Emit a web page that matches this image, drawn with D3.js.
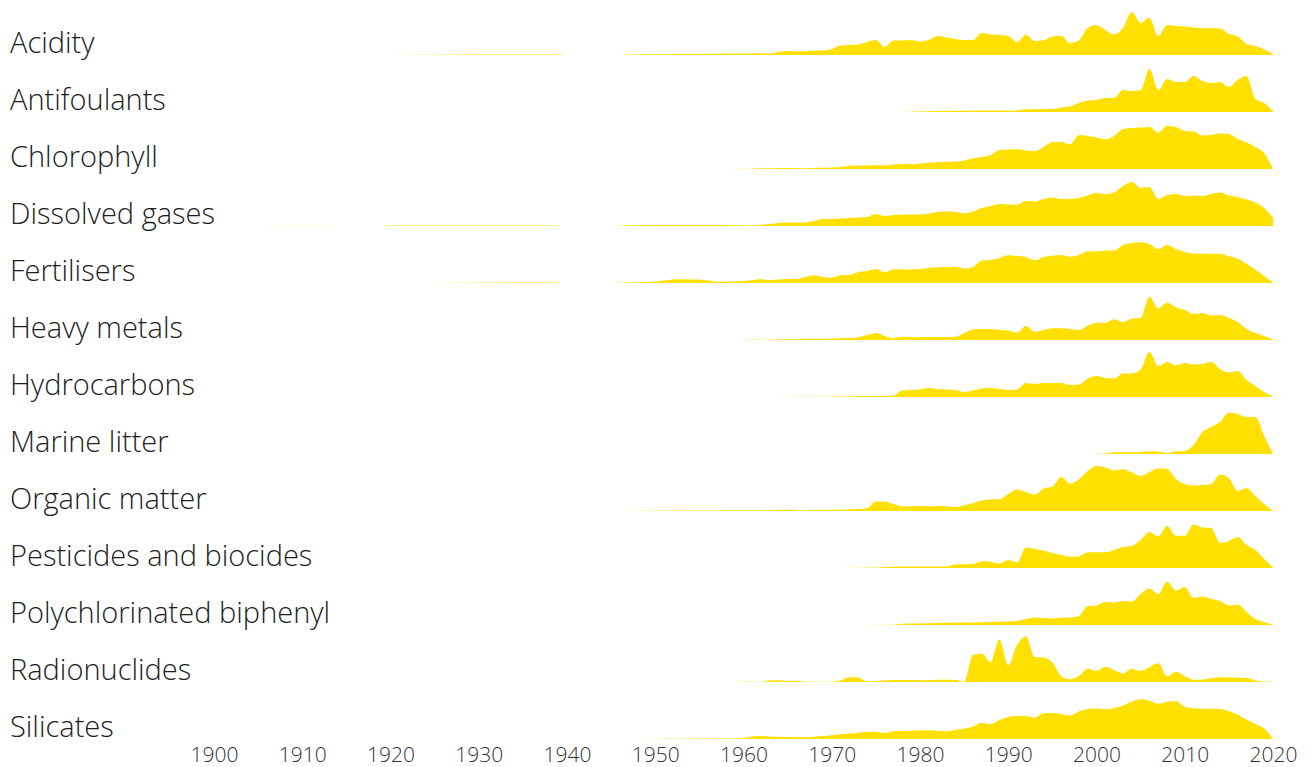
<!DOCTYPE html>
<html><head><meta charset="utf-8">
<script src="https://cdn.jsdelivr.net/npm/d3@7"></script>
<style>body{margin:0;background:#fff;}svg{display:block;}</style>
</head><body>
<svg id="chart" width="1314" height="767"></svg>
<script>
const categories = ["Acidity","Antifoulants","Chlorophyll","Dissolved gases","Fertilisers","Heavy metals","Hydrocarbons","Marine litter","Organic matter","Pesticides and biocides","Polychlorinated biphenyl","Radionuclides","Silicates"];
const tickYears = [1900,1910,1920,1930,1940,1950,1960,1970,1980,1990,2000,2010,2020];

const acidityStart = 1920;
const acidity = [0.4,0.5,0.5,0.5,0.5,0.5,0.5,0.6,0.5,0.5,
 0.6,0.5,0.5,0.5,0.5,0.6,0.5,0.5,0.5,0.4,
 0,0,0,0,0,0,0,0.5,0.6,0.7,
 0.8,0.8,0.9,1,1,1,1.2,1.3,1.4,1.5,
 1.5,1.6,1.8,1.5,3,4,3.5,3.8,4.5,4.5,
 6,9.5,10,10.5,13,15,8,14.5,14.5,15,
 13.5,15,19,17.5,16,15,15,22,20.5,20,
 19,13,20,14,14.5,18.5,19,12,14.5,27,
 30,25,20.5,27,43,32,37,19,30,29,
 28.5,27.5,26.7,26.7,26.5,21,18.5,11,9,5.5,
 1];

const antifoulantsStart = 1978;
const antifoulants = [0.5,0.8,
 1,1,1,1.1,1.2,1.2,1.3,1.4,1.5,1.5,
 1.3,1.5,2.7,2.8,3,3,4.5,5.5,9,11.5,
 12,14,14,22,21,22,43,22,33,30,
 30,36,31,29,30,25,32,36,13,9,
 0.5];

const chlorophyllStart = 1958;
const chlorophyll = [0.2,0.3,
 0.4,0.5,1.2,0.8,0.9,1,0.8,0.8,1,1.2,
 1.5,2,3.3,3.4,3.5,3.7,3.5,4.5,5,4.8,
 5.5,6.3,6.8,7.3,7.3,8.5,10.7,12,14,19,
 19.5,19.7,18.5,17.7,22,27,27,24.7,34,33,
 31.5,29.7,33,40,41,41.5,42,36.3,43.3,42,
 38,37.5,33.5,34,35.5,35,30,26.5,22,16,
 0];

const dissolvedGasesStart = 1905;
const dissolvedGases = [0.3,0.3,0.3,0.3,0.3,
 0.3,0.3,0.3,0.3,0,0,0,0,0,0,
 0.4,0.4,0.4,0.4,0.4,0.5,0.4,0.4,0.4,0.4,
 0.4,0.5,0.4,0.4,0.4,0.4,0.5,0.4,0.4,0.3,
 0,0,0,0,0,0,0.3,0.7,0.8,0.9,
 1,1,1,1,1.1,1,1,1,1,0.8,
 0.8,0.4,1.2,2,3,3.5,3.5,3.5,5,7,
 7,7.5,8,8.5,9,12,10,11,11.5,11.5,
 11.5,12.5,14,14.5,14,12.5,14.5,18,20,22,
 21.5,21.5,25,24.5,27,28.5,27,27,28,30.5,
 33,32,33.5,40,44,38,39,27,31,32,
 30,30.5,30,32,33.5,30.5,29,26.5,23.5,18,
 8];

const fertilisersStart = 1925;
const fertilisers = [0.4,0.4,0.4,0.4,0.4,
 0.4,0.4,0.5,0.4,0.4,0.4,0.4,0.5,0.4,0.3,
 0,0,0,0,0,0,0.3,0.5,0.7,1,
 1.5,2.5,3.5,3.7,3.6,3.5,2.5,1.3,1.4,1.7,
 2,3,3.7,3,3.5,4,4,6,7.7,6,
 5.3,7.7,8,11,12,14,10.7,13.7,13.5,13.5,
 14,15,15.7,16,16,14.5,16,22.5,23,25,
 27.7,27,26,22.7,26,27.3,28,26.3,28,31.7,
 31.5,32.5,32.5,38,40,40.7,39,34,38,34,
 31,29.5,29.3,29.3,29.3,26.7,24.5,19,13.5,7,
 0.5];

const heavyMetalsStart = 1960;
const heavyMetals = [0.5,1.2,0.5,0.5,0.8,1,0.8,1.2,1.3,1.3,
 1.5,1.8,2,2.7,5,7,4,1.7,3.3,3,
 2.8,3,3,3.1,3.3,7,10.5,11,11,10,
 9.5,7.3,14,8.3,10,11.7,11.7,11,10,14.3,
 17.3,17.3,20.7,17.7,21.5,22,43.3,31.7,37.3,32.7,
 30,26,27,24.5,25,22,18,11,7,4,
 0.5];

const hydrocarbonsStart = 1963;
const hydrocarbons = [0.1,0.2,0.3,0.3,0.3,0.3,0.3,
 0.3,0.4,0.5,1,1,1,1,1.5,6.5,7,
 7.5,9,8,7.5,7,5,6.5,8.5,9,8,
 7,7.5,14,13,14,14,14,12,12.5,18.5,
 21,19,18.5,23.5,23.5,27.5,45,31,35,31.5,
 34,32.5,33,35,28,24.5,26,17,11,5,
 0.5];

const marineLitterStart = 2000;
const marineLitter = [0.5,1,1.7,1.7,1.7,2,2.7,2.5,1,2.7,
 3,9,22,27,32,41.5,40,37,37,18,
 0.5];

const organicMatterStart = 1946;
const organicMatter = [0.3,0.5,0.5,0.5,
 0.5,0.5,0.6,0.6,0.6,0.6,0.6,0.6,0.7,0.7,
 0.7,0.7,0.7,0.8,1,1.5,0.8,0.8,1,1,
 1.2,1.3,1.5,2,2.7,9.5,9.3,7,4.5,4.8,
 5,4.5,5.3,4.8,4,5.5,8,10.5,11.5,11.7,
 17,21.5,19,16.5,22.5,24.5,34,27.5,31.7,40,
 45,43.5,40.5,41.7,38.5,35,39,42.5,42,32,
 27,25.5,26,27,36.5,33,20,23,15,7,
 0.5];

const pesticidesStart = 1971;
const pesticides = [0.2,0.3,0.4,0.5,0.5,1,1.3,1.5,1.6,
 1.6,1.6,1.6,1.5,3.5,3.7,4,6.8,6.3,4.5,
 8,5.5,20.5,19,17.5,15,13,11.3,11.7,15.5,
 15.7,15.7,18,21,22,28,36,31.5,42,32.3,
 32.3,43.5,40.5,40,25,27,31,23,18,9,
 0.5];

const pcbStart = 1974;
const pcb = [0.3,0.4,0.2,0.5,1.2,1.4,
 1.6,1.8,2,2.3,2.3,2.4,2.5,2.7,3,3.2,
 3.5,4,6,7.5,7,6.5,7.3,7.5,9,19,
 19.5,23,22.5,24,23.5,31,36.5,31,43.5,34.5,
 38,27,28.5,26,24,19.5,20.5,13,6,3,
 0.5];

const radionuclidesStart = 1959;
const radionuclides = [0.5,
 1,0.8,0.3,2,2,1,1.2,0.3,0.3,0.3,
 0.3,1.5,4.7,4.5,0.8,1,1.5,2,2,2,
 1.8,1.7,2.3,2.3,2,0.3,27,28.5,20,42.5,
 16.5,37,45.5,25,24.5,19.5,6,2.7,6,13.3,
 11,15.3,12,8.5,13.3,11,15,18.7,5.7,10.3,
 6,2.3,2.5,3.8,4.7,4.5,4.3,4,1.5,0.4,
 0.3];

const silicatesStart = 1949;
const silicates = [0.3,
 0.5,0.5,0.5,0.5,0.5,0.5,0.5,0.5,0.5,0.5,
 1,2.5,3,2.6,2.3,2,1.8,1.7,2.3,3,
 3.8,4.7,5.5,6.3,7,7.3,6,7.7,8,8.3,
 8.5,8.7,8.2,7.7,9,10.5,12.5,16.3,14.7,19,
 22,23,23,21.3,25.7,26,25,23.5,27.5,30,
 30.5,29.7,31,33.5,37.5,39.7,38.3,35.3,37.3,37.7,
 32.3,30.7,30.3,30.3,30,27.7,24.5,19.5,15,10.5,
 0.5];

const seriesValues = [acidity, antifoulants, chlorophyll, dissolvedGases, fertilisers, heavyMetals, hydrocarbons, marineLitter, organicMatter, pesticides, pcb, radionuclides, silicates];
const seriesStarts = [acidityStart, antifoulantsStart, chlorophyllStart, dissolvedGasesStart, fertilisersStart, heavyMetalsStart, hydrocarbonsStart, marineLitterStart, organicMatterStart, pesticidesStart, pcbStart, radionuclidesStart, silicatesStart];

const series = categories.map((name, i) => ({
  name,
  points: seriesValues[i].map((v, j) => ({year: seriesStarts[i] + j, value: v}))
}));
series.forEach(s => { const last = s.points[s.points.length-1].year; if (last !== 2020) console.warn(s.name, "ends at", last); });

const svg = d3.select("#chart");
const defs = svg.append("defs");
const grad = defs.append("linearGradient")
  .attr("id", "fadeIn")
  .attr("x1", 0).attr("x2", 1).attr("y1", 0).attr("y2", 0);
grad.append("stop").attr("offset", 0).attr("stop-color", "#ffe000").attr("stop-opacity", 0.15);
grad.append("stop").attr("offset", 0.1).attr("stop-color", "#ffe000").attr("stop-opacity", 1);
grad.append("stop").attr("offset", 1).attr("stop-color", "#ffe000").attr("stop-opacity", 1);

const x = d3.scaleLinear().domain([1900, 2020]).range([214, 1273]);
const row = d3.scalePoint().domain(categories).range([55, 739]);
const h = d3.scaleLinear().domain([0, 50]).range([0, 50]);

const area = d3.area()
  .x(d => x(d.year))
  .y0(0)
  .y1(d => -h(d.value))
  .curve(d3.curveMonotoneX);

const rows = svg.selectAll("g.row").data(series).join("g")
  .attr("class", "row")
  .attr("transform", d => `translate(0,${row(d.name)})`);

rows.append("path")
  .attr("d", d => area(d.points))
  .attr("fill", "url(#fadeIn)");

rows.append("text")
  .attr("x", 10)
  .attr("y", -2)
  .attr("font-family", "'Open Sans', sans-serif")
  .attr("font-weight", 300)
  .attr("font-size", 29)
  .attr("fill", "#1e1e1e")
  .text(d => d.name);

const axis = d3.axisBottom(x).tickValues(tickYears).tickFormat(d3.format("d")).tickSize(0).tickPadding(3);
const gx = svg.append("g").attr("transform", "translate(0,744)").call(axis);
gx.select(".domain").remove();
gx.selectAll("text")
  .attr("font-family", "'Open Sans', sans-serif")
  .attr("font-weight", 300)
  .attr("font-size", 21)
  .attr("fill", "#333");
</script>
</body></html>
